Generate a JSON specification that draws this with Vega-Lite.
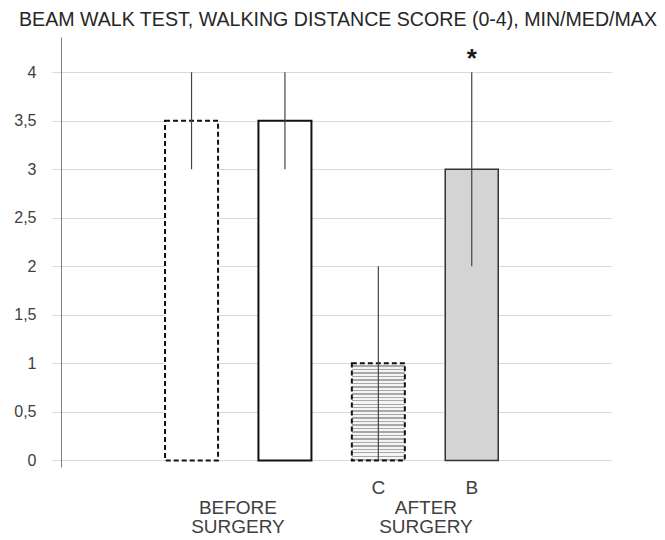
{
  "$schema": "https://vega.github.io/schema/vega-lite/v6.json",
  "autosize": "none",
  "width": 551,
  "height": 430,
  "padding": {"left": 61, "top": 37, "right": 53, "bottom": 73},
  "background": "white",
  "title": {
    "text": "BEAM WALK TEST, WALKING DISTANCE SCORE (0-4), MIN/MED/MAX",
    "anchor": "start",
    "frame": "group",
    "dx": -42,
    "dy": 17,
    "offset": 8,
    "baseline": "alphabetic",
    "font": "Liberation Sans",
    "fontSize": 19.6,
    "fontWeight": "normal",
    "color": "#262626"
  },
  "config": {
    "view": {"stroke": null},
    "axis": {"labelFont": "Liberation Sans", "labelColor": "#404040"}
  },
  "datasets": {
    "bars": [
      {"bar": "C before", "group": "BEFORE SURGERY", "sub": "C", "median": 3.5, "min": 3, "max": 4, "sig": ""},
      {"bar": "B before", "group": "BEFORE SURGERY", "sub": "B", "median": 3.5, "min": 3, "max": 4, "sig": ""},
      {"bar": "C after", "group": "AFTER SURGERY", "sub": "C", "median": 1, "min": 0, "max": 2, "sig": ""},
      {"bar": "B after", "group": "AFTER SURGERY", "sub": "B", "median": 3, "min": 2, "max": 4, "sig": "*"}
    ]
  },
  "data": {"name": "bars"},
  "resolve": {"scale": {"x": "independent"}},
  "layer": [
    {
      "layer": [
        {
          "transform": [{"filter": "datum.group == 'BEFORE SURGERY'"}],
          "mark": {"type": "bar", "fill": "white", "stroke": "#111111", "strokeWidth": 2, "width": {"band": 0.631}},
          "encoding": {
            "x": {
              "field": "bar", "type": "nominal",
              "scale": {"type": "band", "domain": ["C before", "B before", "C after", "B after"], "paddingInner": 0.1006, "paddingOuter": 1, "align": 0.474},
              "axis": {
                "orient": "bottom", "title": null, "labelAngle": 0,
                "labelExpr": "datum.value == 'C after' ? 'C' : datum.value == 'B after' ? 'B' : ''",
                "labelPadding": 11, "labelFontSize": 19, "ticks": false, "tickSize": 0, "domain": false, "grid": false
              }
            },
            "y": {
              "field": "median", "type": "quantitative",
              "scale": {"domain": [-0.068, 4.363], "nice": false, "zero": false},
              "axis": {
                "title": null,
                "values": [0, 0.5, 1, 1.5, 2, 2.5, 3, 3.5, 4],
                "format": "~g",
                "labelExpr": "replace(datum.label, '.', ',')",
                "labelFontSize": 16, "labelPadding": 16,
                "tickSize": 9, "tickColor": "#d9d9d9", "tickWidth": 1,
                "grid": true, "gridColor": "#d9d9d9", "gridWidth": 1,
                "domainColor": "#808080", "domainWidth": 1
              }
            },
            "strokeDash": {
              "field": "sub", "type": "nominal",
              "scale": {"domain": ["C", "B"], "range": [[5, 3], [1, 0]]},
              "legend": null
            }
          }
        },
        {
          "transform": [{"filter": "datum.bar == 'C after'"}],
          "mark": {
            "type": "bar", "stroke": "#111111", "strokeWidth": 2, "strokeDash": [5, 3], "width": {"band": 0.631},
            "fill": {
              "gradient": "linear", "x1": 0, "y1": 0, "x2": 0, "y2": 1,
              "stops": [
                {"offset": 0, "color": "#f5f5f5"}, {"offset": 0.0214, "color": "#f5f5f5"}, {"offset": 0.0214, "color": "#a8a8a8"}, {"offset": 0.0357, "color": "#a8a8a8"},
                {"offset": 0.0357, "color": "#f5f5f5"}, {"offset": 0.0571, "color": "#f5f5f5"}, {"offset": 0.0571, "color": "#a8a8a8"}, {"offset": 0.0714, "color": "#a8a8a8"},
                {"offset": 0.0714, "color": "#f5f5f5"}, {"offset": 0.0929, "color": "#f5f5f5"}, {"offset": 0.0929, "color": "#a8a8a8"}, {"offset": 0.1071, "color": "#a8a8a8"},
                {"offset": 0.1071, "color": "#f5f5f5"}, {"offset": 0.1286, "color": "#f5f5f5"}, {"offset": 0.1286, "color": "#a8a8a8"}, {"offset": 0.1429, "color": "#a8a8a8"},
                {"offset": 0.1429, "color": "#f5f5f5"}, {"offset": 0.1643, "color": "#f5f5f5"}, {"offset": 0.1643, "color": "#a8a8a8"}, {"offset": 0.1786, "color": "#a8a8a8"},
                {"offset": 0.1786, "color": "#f5f5f5"}, {"offset": 0.2000, "color": "#f5f5f5"}, {"offset": 0.2000, "color": "#a8a8a8"}, {"offset": 0.2143, "color": "#a8a8a8"},
                {"offset": 0.2143, "color": "#f5f5f5"}, {"offset": 0.2357, "color": "#f5f5f5"}, {"offset": 0.2357, "color": "#a8a8a8"}, {"offset": 0.2500, "color": "#a8a8a8"},
                {"offset": 0.2500, "color": "#f5f5f5"}, {"offset": 0.2714, "color": "#f5f5f5"}, {"offset": 0.2714, "color": "#a8a8a8"}, {"offset": 0.2857, "color": "#a8a8a8"},
                {"offset": 0.2857, "color": "#f5f5f5"}, {"offset": 0.3071, "color": "#f5f5f5"}, {"offset": 0.3071, "color": "#a8a8a8"}, {"offset": 0.3214, "color": "#a8a8a8"},
                {"offset": 0.3214, "color": "#f5f5f5"}, {"offset": 0.3429, "color": "#f5f5f5"}, {"offset": 0.3429, "color": "#a8a8a8"}, {"offset": 0.3571, "color": "#a8a8a8"},
                {"offset": 0.3571, "color": "#f5f5f5"}, {"offset": 0.3786, "color": "#f5f5f5"}, {"offset": 0.3786, "color": "#a8a8a8"}, {"offset": 0.3929, "color": "#a8a8a8"},
                {"offset": 0.3929, "color": "#f5f5f5"}, {"offset": 0.4143, "color": "#f5f5f5"}, {"offset": 0.4143, "color": "#a8a8a8"}, {"offset": 0.4286, "color": "#a8a8a8"},
                {"offset": 0.4286, "color": "#f5f5f5"}, {"offset": 0.4500, "color": "#f5f5f5"}, {"offset": 0.4500, "color": "#a8a8a8"}, {"offset": 0.4643, "color": "#a8a8a8"},
                {"offset": 0.4643, "color": "#f5f5f5"}, {"offset": 0.4857, "color": "#f5f5f5"}, {"offset": 0.4857, "color": "#a8a8a8"}, {"offset": 0.5000, "color": "#a8a8a8"},
                {"offset": 0.5000, "color": "#f5f5f5"}, {"offset": 0.5214, "color": "#f5f5f5"}, {"offset": 0.5214, "color": "#a8a8a8"}, {"offset": 0.5357, "color": "#a8a8a8"},
                {"offset": 0.5357, "color": "#f5f5f5"}, {"offset": 0.5571, "color": "#f5f5f5"}, {"offset": 0.5571, "color": "#a8a8a8"}, {"offset": 0.5714, "color": "#a8a8a8"},
                {"offset": 0.5714, "color": "#f5f5f5"}, {"offset": 0.5929, "color": "#f5f5f5"}, {"offset": 0.5929, "color": "#a8a8a8"}, {"offset": 0.6071, "color": "#a8a8a8"},
                {"offset": 0.6071, "color": "#f5f5f5"}, {"offset": 0.6286, "color": "#f5f5f5"}, {"offset": 0.6286, "color": "#a8a8a8"}, {"offset": 0.6429, "color": "#a8a8a8"},
                {"offset": 0.6429, "color": "#f5f5f5"}, {"offset": 0.6643, "color": "#f5f5f5"}, {"offset": 0.6643, "color": "#a8a8a8"}, {"offset": 0.6786, "color": "#a8a8a8"},
                {"offset": 0.6786, "color": "#f5f5f5"}, {"offset": 0.7000, "color": "#f5f5f5"}, {"offset": 0.7000, "color": "#a8a8a8"}, {"offset": 0.7143, "color": "#a8a8a8"},
                {"offset": 0.7143, "color": "#f5f5f5"}, {"offset": 0.7357, "color": "#f5f5f5"}, {"offset": 0.7357, "color": "#a8a8a8"}, {"offset": 0.7500, "color": "#a8a8a8"},
                {"offset": 0.7500, "color": "#f5f5f5"}, {"offset": 0.7714, "color": "#f5f5f5"}, {"offset": 0.7714, "color": "#a8a8a8"}, {"offset": 0.7857, "color": "#a8a8a8"},
                {"offset": 0.7857, "color": "#f5f5f5"}, {"offset": 0.8071, "color": "#f5f5f5"}, {"offset": 0.8071, "color": "#a8a8a8"}, {"offset": 0.8214, "color": "#a8a8a8"},
                {"offset": 0.8214, "color": "#f5f5f5"}, {"offset": 0.8429, "color": "#f5f5f5"}, {"offset": 0.8429, "color": "#a8a8a8"}, {"offset": 0.8571, "color": "#a8a8a8"},
                {"offset": 0.8571, "color": "#f5f5f5"}, {"offset": 0.8786, "color": "#f5f5f5"}, {"offset": 0.8786, "color": "#a8a8a8"}, {"offset": 0.8929, "color": "#a8a8a8"},
                {"offset": 0.8929, "color": "#f5f5f5"}, {"offset": 0.9143, "color": "#f5f5f5"}, {"offset": 0.9143, "color": "#a8a8a8"}, {"offset": 0.9286, "color": "#a8a8a8"},
                {"offset": 0.9286, "color": "#f5f5f5"}, {"offset": 0.9500, "color": "#f5f5f5"}, {"offset": 0.9500, "color": "#a8a8a8"}, {"offset": 0.9643, "color": "#a8a8a8"},
                {"offset": 0.9643, "color": "#f5f5f5"}, {"offset": 0.9857, "color": "#f5f5f5"}, {"offset": 0.9857, "color": "#a8a8a8"}, {"offset": 1, "color": "#a8a8a8"}
              ]
            }
          },
          "encoding": {
            "x": {"field": "bar", "type": "nominal", "axis": {"title": null}},
            "y": {"field": "median", "type": "quantitative", "axis": {"title": null}}
          }
        },
        {
          "transform": [{"filter": "datum.bar == 'B after'"}],
          "mark": {"type": "bar", "fill": "#d4d4d4", "stroke": "#333333", "strokeWidth": 1.5, "width": {"band": 0.631}},
          "encoding": {
            "x": {"field": "bar", "type": "nominal", "axis": {"title": null}},
            "y": {"field": "median", "type": "quantitative", "axis": {"title": null}}
          }
        },
        {
          "mark": {"type": "rule", "color": "#444444", "strokeWidth": 1.2},
          "encoding": {
            "x": {"field": "bar", "type": "nominal", "axis": {"title": null}},
            "y": {"field": "min", "type": "quantitative", "axis": {"title": null}},
            "y2": {"field": "max"}
          }
        },
        {
          "mark": {"type": "text", "font": "Liberation Sans", "fontSize": 26, "fontWeight": "bold", "baseline": "alphabetic", "dy": -5, "color": "#1a1a1a"},
          "encoding": {
            "x": {"field": "bar", "type": "nominal", "axis": {"title": null}},
            "y": {"field": "max", "type": "quantitative", "axis": {"title": null}},
            "text": {"field": "sig"}
          }
        }
      ]
    },
    {
      "mark": {"type": "text", "text": ""},
      "encoding": {
        "x": {
          "field": "group", "type": "nominal",
          "scale": {"type": "band", "domain": ["BEFORE SURGERY", "AFTER SURGERY"], "paddingInner": 0, "paddingOuter": 0.4655, "align": 0.474},
          "axis": {
            "orient": "bottom", "title": null, "labelAngle": 0,
            "labelExpr": "split(datum.label, ' ')",
            "labelPadding": 31, "labelFontSize": 19, "labelLineHeight": 19.5,
            "ticks": false, "tickSize": 0, "domain": false, "grid": false
          }
        }
      }
    }
  ]
}
